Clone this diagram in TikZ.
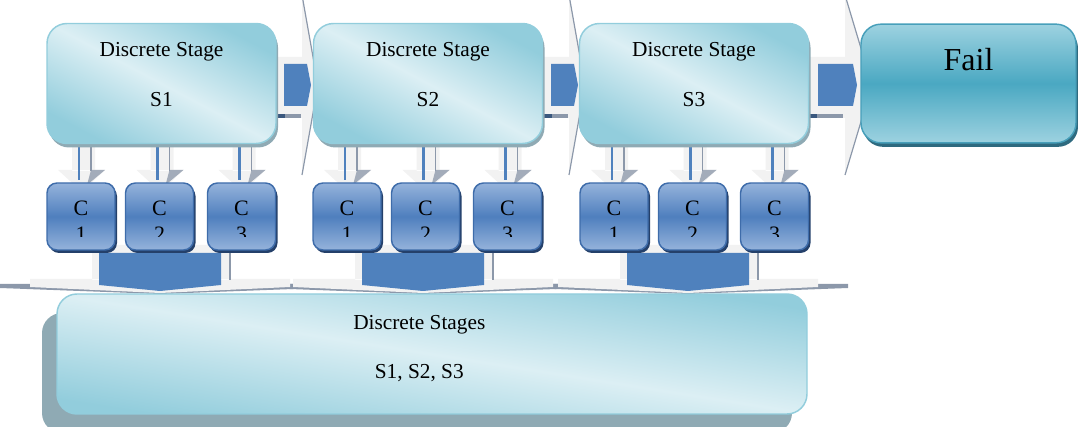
\documentclass[tikz,border=0pt]{standalone}
\usepackage{fontspec}
\setmainfont{Liberation Serif}
\usetikzlibrary{shadows}

\definecolor{paleband}{HTML}{F2F2F2}
\definecolor{blockblue}{HTML}{4F81BD}
\definecolor{stubdark}{HTML}{3A587E}
\definecolor{edgegray}{HTML}{8C98AA}
\definecolor{headgray}{HTML}{A3ACBA}
\definecolor{stagelight}{HTML}{DCEFF4}
\definecolor{stagedark}{HTML}{92CDDC}
\definecolor{stageshadow}{HTML}{8FAAB4}
\definecolor{faillight}{HTML}{9DD2E0}
\definecolor{failmid}{HTML}{4AA8C2}
\definecolor{failline}{HTML}{479FBA}
\definecolor{failshadow}{HTML}{2E6A7F}
\definecolor{clight}{HTML}{95B3DB}
\definecolor{cmid}{HTML}{4F7FBE}
\definecolor{cline}{HTML}{3E6CAA}
\definecolor{cshadow}{HTML}{24406A}

\begin{document}
\begin{tikzpicture}[x=0.75pt,y=-0.75pt]

\useasboundingbox (0,0) rectangle (1078,427);

% collecting arrows into the summary box
\fill[edgegray] (0,284) -- (320,284) -- (320,288) -- (160,294) -- (0,288) -- cycle;
\fill[edgegray] (263,284) -- (583,284) -- (583,288) -- (423,294) -- (263,288) -- cycle;
\fill[edgegray] (528,284) -- (848,284) -- (848,288) -- (688,294) -- (528,288) -- cycle;

\fill[paleband] (92,245) rectangle ++(138,35) (30,279) -- (290,279) -- (290,287) -- (160,293) -- (30,287) -- cycle;
\fill[paleband] (355,245) rectangle ++(138,35) (293,279) -- (553,279) -- (553,287) -- (423,293) -- (293,287) -- cycle;
\fill[paleband] (620,245) rectangle ++(138,35) (558,279) -- (818,279) -- (818,287) -- (688,293) -- (558,287) -- cycle;

\fill[blockblue] (99,253) -- (221,253) -- (221,285) -- (160,291) -- (99,285) -- cycle;
\fill[blockblue] (362,253) -- (484,253) -- (484,285) -- (423,291) -- (362,285) -- cycle;
\fill[blockblue] (627,253) -- (749,253) -- (749,285) -- (688,291) -- (627,285) -- cycle;

\draw[edgegray, line width=1.2pt] (230,250) -- (230,280);
\draw[edgegray, line width=1.2pt] (493,250) -- (493,280);
\draw[edgegray, line width=1.2pt] (758,250) -- (758,280);

\node[draw=stagedark, line width=1.1pt, rounded corners=15pt, minimum width=562.5pt, minimum height=90pt,
  top color=stagedark, bottom color=stagedark, middle color=stagelight, shading angle=-9,
  general shadow={fill=stageshadow, shadow xshift=-11.25pt, shadow yshift=-14.25pt},
  align=center, font=\fontsize{16}{19}\selectfont, text depth=11pt]
  (all) at (432,354) {Discrete Stages\hspace*{19pt}\\[17.5pt]S1, S2, S3\hspace*{19pt}};

% feed arrows, stage down to C
\fill[paleband] (72,145) rectangle ++(23,26) (58,170) -- ++(47,0) -- ++(-23,22) -- cycle;
\fill[paleband] (150.5,145) rectangle ++(23,26) (136.5,170) -- ++(47,0) -- ++(-23,22) -- cycle;
\fill[paleband] (232.5,145) rectangle ++(23,26) (218.5,170) -- ++(47,0) -- ++(-23,22) -- cycle;
\fill[paleband] (338,145) rectangle ++(23,26) (324,170) -- ++(47,0) -- ++(-23,22) -- cycle;
\fill[paleband] (416.5,145) rectangle ++(23,26) (402.5,170) -- ++(47,0) -- ++(-23,22) -- cycle;
\fill[paleband] (498.5,145) rectangle ++(23,26) (484.5,170) -- ++(47,0) -- ++(-23,22) -- cycle;
\fill[paleband] (605,145) rectangle ++(23,26) (591,170) -- ++(47,0) -- ++(-23,22) -- cycle;
\fill[paleband] (683.5,145) rectangle ++(23,26) (669.5,170) -- ++(47,0) -- ++(-23,22) -- cycle;
\fill[paleband] (765.5,145) rectangle ++(23,26) (751.5,170) -- ++(47,0) -- ++(-23,22) -- cycle;

\fill[headgray] (91,170) -- ++(14,0) -- ++(-18,15) -- cycle;
\fill[headgray] (169.5,170) -- ++(14,0) -- ++(-18,15) -- cycle;
\fill[headgray] (251.5,170) -- ++(14,0) -- ++(-18,15) -- cycle;
\fill[headgray] (357,170) -- ++(14,0) -- ++(-18,15) -- cycle;
\fill[headgray] (435.5,170) -- ++(14,0) -- ++(-18,15) -- cycle;
\fill[headgray] (517.5,170) -- ++(14,0) -- ++(-18,15) -- cycle;
\fill[headgray] (624,170) -- ++(14,0) -- ++(-18,15) -- cycle;
\fill[headgray] (702.5,170) -- ++(14,0) -- ++(-18,15) -- cycle;
\fill[headgray] (784.5,170) -- ++(14,0) -- ++(-18,15) -- cycle;

\begin{scope}[line width=2.2pt, blockblue]
	\draw (79,145) -- ++(0,35);
	\draw (157.5,145) -- ++(0,35);
	\draw (239.5,145) -- ++(0,35);
	\draw (345,145) -- ++(0,35);
	\draw (423.5,145) -- ++(0,35);
	\draw (505.5,145) -- ++(0,35);
	\draw (612,145) -- ++(0,35);
	\draw (690.5,145) -- ++(0,35);
	\draw (772.5,145) -- ++(0,35);
\end{scope}

\begin{scope}[line width=1.2pt, edgegray]
	\draw (91,145) -- ++(0,26);
	\draw (169.5,145) -- ++(0,26);
	\draw (251.5,145) -- ++(0,26);
	\draw (357,145) -- ++(0,26);
	\draw (435.5,145) -- ++(0,26);
	\draw (517.5,145) -- ++(0,26);
	\draw (624,145) -- ++(0,26);
	\draw (702.5,145) -- ++(0,26);
	\draw (784.5,145) -- ++(0,26);
\end{scope}

% C boxes
\begin{scope}[every node/.style={draw=cline, line width=1.1pt, rounded corners=7.5pt,
	minimum width=51pt, minimum height=50.25pt, top color=clight, bottom color=clight, middle color=cmid,
	general shadow={fill=cshadow, shadow xshift=1.5pt, shadow yshift=-2.25pt}}]
	\node (s1c1) at (81,216.5) {};
	\node (s1c2) at (159.5,216.5) {};
	\node (s1c3) at (241.5,216.5) {};
	\node (s2c1) at (347,216.5) {};
	\node (s2c2) at (425.5,216.5) {};
	\node (s2c3) at (507.5,216.5) {};
	\node (s3c1) at (614,216.5) {};
	\node (s3c2) at (692.5,216.5) {};
	\node (s3c3) at (774.5,216.5) {};
\end{scope}

\begin{scope}[every node/.style={inner sep=0pt, align=center, font=\fontsize{16.5}{19.5}\selectfont}]
	\clip (0,183) rectangle (1078,237);
	\node (s1c1t) at (s1c1.center) [yshift=-3.75pt] {C\\1};
	\node (s1c2t) at (s1c2.center) [yshift=-3.75pt] {C\\2};
	\node (s1c3t) at (s1c3.center) [yshift=-3.75pt] {C\\3};
	\node (s2c1t) at (s2c1.center) [yshift=-3.75pt] {C\\1};
	\node (s2c2t) at (s2c2.center) [yshift=-3.75pt] {C\\2};
	\node (s2c3t) at (s2c3.center) [yshift=-3.75pt] {C\\3};
	\node (s3c1t) at (s3c1.center) [yshift=-3.75pt] {C\\1};
	\node (s3c2t) at (s3c2.center) [yshift=-3.75pt] {C\\2};
	\node (s3c3t) at (s3c3.center) [yshift=-3.75pt] {C\\3};
\end{scope}

% stage to stage arrows
\fill[paleband] (276,57) rectangle (302,118) (302,-5) -- (318,85) -- (302,175) -- cycle;
\fill[paleband] (543,57) rectangle (569,118) (569,-5) -- (585,85) -- (569,175) -- cycle;
\fill[paleband] (808,57) rectangle (845,118) (845,-5) -- (872,85) -- (845,175) -- cycle;

\draw[edgegray, line width=0.9pt] (302,-5) -- (318,85) -- (302,175);
\draw[edgegray, line width=0.9pt] (569,-5) -- (585,85) -- (569,175);
\draw[edgegray, line width=0.9pt] (845,-5) -- (872,85) -- (845,175);

\fill[blockblue] (284,64) -- (307,64) -- (311,85) -- (307,106) -- (284,106) -- cycle;
\fill[blockblue] (551,64) -- (574,64) -- (578,85) -- (574,106) -- (551,106) -- cycle;
\fill[blockblue] (818,64) -- (853,64) -- (857,85) -- (853,106) -- (818,106) -- cycle;

\begin{scope}[line width=2.5pt]
	\draw[stubdark] (276,116) -- (285,116);
	\draw[edgegray] (285,116) -- (301,116);
	\draw[stubdark] (543,116) -- (552,116);
	\draw[edgegray] (552,116) -- (568,116);
	\draw[stubdark] (808,116) -- (817,116);
	\draw[edgegray] (817,116) -- (843,116);
\end{scope}

% stages
\begin{scope}[every node/.style={draw=stagedark, line width=1.1pt, rounded corners=15pt,
	minimum width=171.75pt, minimum height=90pt, top color=stagedark, bottom color=stagedark,
	middle color=stagelight, shading angle=-28,
	general shadow={fill=stageshadow, shadow xshift=1.5pt, shadow yshift=-3pt},
	align=center, font=\fontsize{16}{19}\selectfont, text depth=13pt}]
	\node (s1) at (161.5,83.5) {Discrete Stage\\[18.5pt]S1};
	\node (s2) at (428,83.5) {Discrete Stage\\[18.5pt]S2};
	\node (s3) at (694,83.5) {Discrete Stage\\[18.5pt]S3};
\end{scope}

\node[draw=failline, line width=1.1pt, rounded corners=15pt, minimum width=161.25pt, minimum height=89pt,
	top color=faillight, bottom color=faillight, middle color=failmid,
	general shadow={fill=failshadow, shadow xshift=1.5pt, shadow yshift=-3pt},
	font=\fontsize{24}{28}\selectfont, text depth=36pt]
	(fail) at (968.5,83.5) {Fail};

\end{tikzpicture}
\end{document}
